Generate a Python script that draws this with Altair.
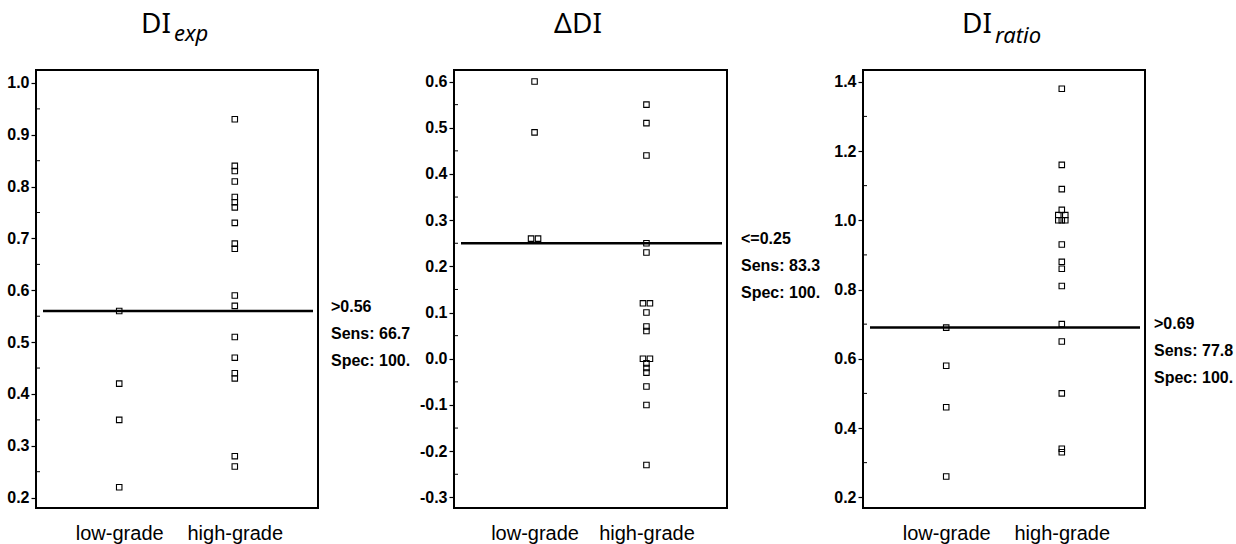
import altair as alt
import pandas as pd

groups = ["low-grade", "high-grade"]

# DI_exp
exp_low = [0.56, 0.42, 0.35, 0.22]
exp_low_side = [0, 0, 0, 0]
exp_high = [0.93, 0.84, 0.83, 0.81, 0.78, 0.77, 0.76, 0.73, 0.69, 0.68,
            0.59, 0.57, 0.51, 0.47, 0.44, 0.43, 0.28, 0.26]
exp_high_side = [0] * 18

# Delta DI
d_low = [0.60, 0.49, 0.26, 0.26]
d_low_side = [0, 0, -1, 1]
d_high = [0.55, 0.51, 0.44, 0.25, 0.23, 0.12, 0.12, 0.10, 0.07, 0.06,
          0.00, 0.00, -0.01, -0.02, -0.03, -0.06, -0.10, -0.23]
d_high_side = [0, 0, 0, 0, 0, -1, 1, 0, 0, 0, -1, 1, 0, 0, 0, 0, 0, 0]

# DI_ratio
r_low = [0.69, 0.58, 0.46, 0.26]
r_low_side = [0, 0, 0, 0]
r_high = [1.38, 1.16, 1.09, 1.03, 1.015, 1.015, 1.0, 1.0, 1.0,
          0.93, 0.88, 0.86, 0.81, 0.70, 0.65, 0.50, 0.34, 0.33]
r_high_side = [0, 0, 0, 0, -1, 1, -1, 0, 1, 0, 0, 0, 0, 0, 0, 0, 0, 0]

cutoffs = [0.56, 0.25, 0.69]
notes = [">0.56\nSens: 66.7\nSpec: 100.",
         "<=0.25\nSens: 83.3\nSpec: 100.",
         ">0.69\nSens: 77.8\nSpec: 100."]
domains = [[0.18, 1.025], [-0.323, 0.625], [0.169, 1.434]]
major_ticks = [
    [0.2, 0.3, 0.4, 0.5, 0.6, 0.7, 0.8, 0.9, 1.0],
    [-0.3, -0.2, -0.1, 0.0, 0.1, 0.2, 0.3, 0.4, 0.5, 0.6],
    [0.2, 0.4, 0.6, 0.8, 1.0, 1.2, 1.4],
]
minor_ticks = [
    [0.25, 0.35, 0.45, 0.55, 0.65, 0.75, 0.85, 0.95],
    [-0.25, -0.15, -0.05, 0.05, 0.15, 0.25, 0.35, 0.45, 0.55],
    [0.3, 0.5, 0.7, 0.9, 1.1, 1.3],
]
title_main = ["DI", "\u0394DI", "DI"]
title_sub = ["exp", "", "ratio"]

BOLD = "Liberation Sans, Arial"
REG = "Liberation Sans, Arial"
TFONT = "Noto Sans, Open Sans"
H = 438


def panel(low, low_side, high, high_side, cutoff, note, domain, major, minor,
          tmain, tsub, width, tx_main, tx_sub, main_align, sub_dy, note_gap):
    df = pd.DataFrame({
        "group": [groups[0]] * len(low) + [groups[1]] * len(high),
        "value": low + high,
        "side": low_side + high_side,
    })
    yscale = alt.Scale(domain=domain, nice=False, zero=False)
    x = alt.X("group:N", sort=groups,
              scale=alt.Scale(type="point", padding=0.72),
              axis=alt.Axis(title=None, ticks=False, domain=False, labelAngle=0,
                            labelFont=REG, labelFontSize=20, labelPadding=15,
                            labelColor="black"))
    y = alt.Y("value:Q", scale=yscale,
              axis=alt.Axis(values=major, title=None, grid=False, domain=False,
                            tickSize=5, tickColor="black", tickWidth=1.2,
                            labelExpr="(datum.value < -1e-9 ? '-' : '') + format(abs(datum.value), '.1f')",
                            labelFont=BOLD, labelFontWeight="bold",
                            labelFontSize=16, labelPadding=2, labelColor="black"))
    pts = alt.Chart(df).mark_point(
        shape="square", filled=False, size=30, color="black",
        strokeWidth=1.1, opacity=1
    ).encode(
        x=x, y=y,
        xOffset=alt.XOffset("side:Q", scale=alt.Scale(domain=[-1, 1], range=[-3.5, 3.5])),
    )
    cut_df = pd.DataFrame({"value": [cutoff], "note": [note]})
    rule = alt.Chart(cut_df).mark_rule(color="black", strokeWidth=2.5).encode(
        y=y, x=alt.value(7), x2=alt.value(width - 5),
    )
    ann = alt.Chart(cut_df).mark_text(
        align="left", baseline="alphabetic", lineBreak="\n", lineHeight=27,
        font=BOLD, fontWeight="bold", fontSize=16, color="black", dy=1,
    ).encode(
        y=y, x=alt.value(width + note_gap), text="note:N",
    )
    minor_df = pd.DataFrame({"value": minor})
    mt = alt.Chart(minor_df).mark_rule(color="black", strokeWidth=1).encode(
        y=y, x=alt.value(0), x2=alt.value(4),
    )
    tdf = pd.DataFrame({"main": [tmain], "sub": [tsub]})
    t1 = alt.Chart(tdf).mark_text(
        align=main_align, baseline="alphabetic", font=TFONT, fontSize=28, color="black"
    ).encode(x=alt.value(tx_main), y=alt.value(-37), text="main:N")
    layers = [pts, mt, rule, ann, t1]
    if tsub:
        t2 = alt.Chart(tdf).mark_text(
            align="left", baseline="alphabetic", font=TFONT, fontSize=22,
            fontStyle="italic", color="black"
        ).encode(x=alt.value(tx_sub), y=alt.value(sub_dy), text="sub:N")
        layers.append(t2)
    return alt.layer(*layers).properties(width=width, height=H)


p1 = panel(exp_low, exp_low_side, exp_high, exp_high_side, cutoffs[0], notes[0],
           domains[0], major_ticks[0], minor_ticks[0], title_main[0], title_sub[0],
           282, 135, 138, "right", -29, 13)
p2 = panel(d_low, d_low_side, d_high, d_high_side, cutoffs[1], notes[1],
           domains[1], major_ticks[1], minor_ticks[1], title_main[1], title_sub[1],
           273, 124, 0, "center", -37, 14)
p3 = panel(r_low, r_low_side, r_high, r_high_side, cutoffs[2], notes[2],
           domains[2], major_ticks[2], minor_ticks[2], title_main[2], title_sub[2],
           282, 129, 132, "right", -27, 9)

chart = alt.hconcat(p1, p2, p3, spacing=136, bounds="flush").properties(
    padding={"left": 5, "top": 10, "right": 0, "bottom": 0},
    background="white",
).configure_view(stroke="black", strokeWidth=2)

chart.save("out.html", embed_options={"renderer": "svg", "actions": False})
